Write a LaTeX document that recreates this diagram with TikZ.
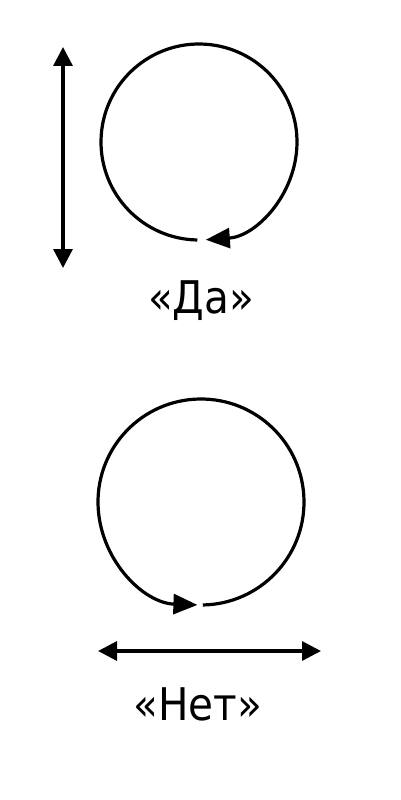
\documentclass[tikz,border=0pt]{standalone}
\usepackage{fontspec}
\setmainfont{DejaVu Sans Condensed}
\usetikzlibrary{arrows.meta,calc}
\tikzset{
  ln/.style={line width=3.2pt, black},
  tip/.style={-{Triangle[length=24pt,width=20pt]}},
  tips/.style={{Triangle[length=19pt,width=19pt]}-{Triangle[length=19pt,width=19pt]}},
  lbl/.style={anchor=base, inner sep=0pt, font=\fontsize{45}{50}\selectfont}
}
\begin{document}
\begin{tikzpicture}[x=1pt,y=-1pt]
\useasboundingbox (0,0) rectangle (400,800);
% top
\coordinate (c1) at (199,142);
\coordinate (v1) at (63,47);
\coordinate (v2) at (63,268);
\draw[ln,tips] (v1) -- (v2);
\draw[ln,tip] ($(c1)+(91:98)$) arc[start angle=91, end angle=446, radius=98];
\node[lbl] (da) at (201,313) {«Да»};
% bottom
\coordinate (c2) at (201,502);
\coordinate (h1) at (98,651);
\coordinate (h2) at (321,651);
\draw[ln,tip] ($(c2)+(89:103)$) arc[start angle=89, end angle=-268, radius=103];
\draw[ln,tips] (h1) -- (h2);
\node[lbl] (net) at (198,720) {«Нет»};
\end{tikzpicture}
\end{document}
